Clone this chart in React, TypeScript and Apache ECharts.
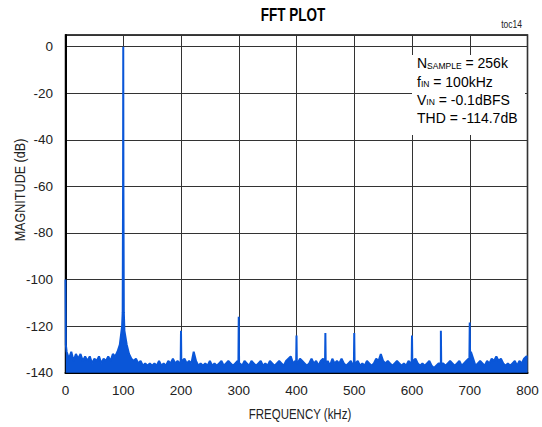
import React, { useEffect, useRef } from "react";
import * as echarts from "echarts";

// X axis ticks (kHz) and Y axis ticks (dB)
const xTicksKHz = [0, 100, 200, 300, 400, 500, 600, 700, 800];
const yTicksDb = [-140, -120, -100, -80, -60, -40, -20, 0];

// Noise floor samples (FFT bins), first bin at 2 kHz, one every 4 kHz
const noiseStartKHz = 2;
const noiseStepKHz = 4;
const noiseDb = [
  -131, -134, -131, -135, -132, -134, -132, -135, -133, -135,
  -133, -136, -134, -135, -133, -136, -134, -135, -133, -135,
  -132, -133, -131, -128, -120, -122, -128, -132, -134, -135,
  -134, -136, -135, -137, -136, -137, -136, -137, -136, -137,
  -135, -137, -136, -137, -135, -136, -134, -136, -135, -136,
  -135, -134, -136, -135, -136, -131, -135, -137, -136, -137,
  -136, -137, -135, -137, -136, -137, -136, -135, -137, -136,
  -135, -136, -137, -136, -135, -136, -137, -135, -136, -137,
  -135, -136, -137, -136, -135, -137, -136, -137, -135, -136,
  -137, -136, -135, -136, -137, -135, -134, -133, -136, -135,
  -136, -134, -135, -136, -137, -136, -134, -136, -135, -137,
  -135, -134, -136, -135, -137, -134, -136, -135, -136, -134,
  -136, -137, -136, -135, -137, -136, -135, -137, -136, -137,
  -135, -136, -137, -136, -134, -135, -132, -135, -136, -135,
  -136, -137, -136, -135, -136, -137, -136, -137, -135, -136,
  -135, -134, -136, -137, -136, -137, -136, -135, -137, -138,
  -137, -136, -137, -136, -137, -136, -135, -136, -137, -136,
  -135, -137, -136, -135, -134, -131, -134, -137, -136, -135,
  -136, -137, -135, -136, -134, -135, -133, -135, -134, -136,
  -137, -136, -137, -136, -135, -137, -135, -136, -134, -133,
];

// DC, fundamental and harmonic / spur peaks: [kHz, dB]
const peakPoints: [number, number][] = [
  [0, -100], [0.6, -128],
  [99, -114], [99.7, -60], [100, 0], [100.3, -60], [101, -114],
  [199.4, -136], [200, -122], [200.6, -136],
  [299.4, -136], [300, -116], [300.6, -136],
  [399.4, -136], [400, -124], [400.6, -136],
  [449.4, -136], [450, -123], [450.6, -136],
  [499.4, -136], [500, -123], [500.6, -136],
  [599.4, -136], [600, -124], [600.6, -136],
  [649.4, -136], [650, -122], [650.6, -136],
  [699.4, -134], [700, -118.5], [700.6, -132],
  [800, -133],
];

const FONT = "'Liberation Sans', Arial, sans-serif";
const BLUE = "#0a56d8";

export default function App() {
  const ref = useRef<HTMLDivElement>(null);
  useEffect(() => {
    if (!ref.current) return;
    const chart = echarts.init(ref.current, undefined, { renderer: "svg" });
    const data: [number, number][] = noiseDb
      .map((v, i) => [noiseStartKHz + i * noiseStepKHz, v] as [number, number])
      .concat(peakPoints)
      .sort((a, b) => a[0] - b[0]);

    const annoLine = (y: number, text: string) => ({
      type: "text",
      x: 417,
      y,
      z: 101,
      style: {
        text,
        fill: "#000",
        fontSize: 14,
        fontFamily: FONT,
        verticalAlign: "middle",
        align: "left",
        rich: {
          s: { fontSize: 8.5, fontFamily: FONT, fill: "#000", verticalAlign: "bottom", lineHeight: 9 },
        },
      },
    });

    chart.setOption({
      animation: false,
      backgroundColor: "#fff",
      grid: {
        left: 65.5,
        right: 14.5,
        top: 35,
        bottom: 54.3,
        show: true,
        borderColor: "#000",
        borderWidth: 1.5,
        backgroundColor: "#fff",
        outerBoundsMode: "none",
        containLabel: false,
      },
      xAxis: {
        type: "value",
        min: xTicksKHz[0],
        max: xTicksKHz[xTicksKHz.length - 1],
        interval: 100,
        axisLine: { show: true, onZero: false, lineStyle: { color: "#000", width: 2 } },
        axisTick: { show: false },
        axisLabel: { fontFamily: FONT, fontSize: 13.5, color: "#222", margin: 11 },
        splitLine: { show: true, lineStyle: { color: "#333", width: 1 } },
      },
      yAxis: {
        type: "value",
        min: yTicksDb[0],
        max: 5,
        interval: 20,
        axisLine: { show: true, onZero: false, lineStyle: { color: "#000", width: 2 } },
        axisTick: { show: false },
        axisLabel: {
          fontFamily: FONT,
          fontSize: 13.5,
          color: "#222",
          margin: 12.5,
          formatter: (v: number) => (yTicksDb.includes(v) ? String(v) : ""),
        },
        splitLine: { show: true, lineStyle: { color: "#333", width: 1 } },
      },
      series: [
        {
          type: "line",
          data,
          showSymbol: false,
          symbol: "none",
          lineStyle: { color: BLUE, width: 2 },
          areaStyle: { color: BLUE, opacity: 1, origin: "start" },
          z: 3,
        },
      ],
      graphic: [
        {
          type: "text",
          x: 293,
          y: 15,
          scaleX: 0.75,
          style: {
            text: "FFT PLOT",
            fill: "#000",
            fontSize: 18,
            fontWeight: "bold",
            fontFamily: FONT,
            align: "center",
            verticalAlign: "middle",
          },
        },
        {
          type: "text",
          x: 522,
          y: 25,
          scaleX: 0.85,
          style: {
            text: "toc14",
            fill: "#222",
            fontSize: 10,
            fontFamily: FONT,
            align: "right",
            verticalAlign: "middle",
          },
        },
        {
          type: "text",
          x: 20,
          y: 190,
          rotation: Math.PI / 2,
          scaleX: 0.9,
          style: {
            text: "MAGNITUDE (dB)",
            fill: "#222",
            fontSize: 14,
            fontFamily: FONT,
            align: "center",
            verticalAlign: "middle",
          },
        },
        {
          type: "text",
          x: 300,
          y: 414,
          scaleX: 0.82,
          style: {
            text: "FREQUENCY (kHz)",
            fill: "#222",
            fontSize: 14,
            fontFamily: FONT,
            align: "center",
            verticalAlign: "middle",
          },
        },
        {
          type: "rect",
          z: 100,
          shape: { x: 412, y: 55, width: 113, height: 80 },
          style: { fill: "#fff" },
        },
        annoLine(63.3, "N{s|SAMPLE} = 256k"),
        annoLine(81.6, "f{s|IN} = 100kHz"),
        annoLine(99.9, "V{s|IN} = -0.1dBFS"),
        annoLine(118.2, "THD = -114.7dB"),
      ],
    });
    return () => chart.dispose();
  }, []);
  return (
    <div
      ref={ref}
      style={{ position: "fixed", left: 0, top: 0, width: 542, height: 427 }}
    />
  );
}
